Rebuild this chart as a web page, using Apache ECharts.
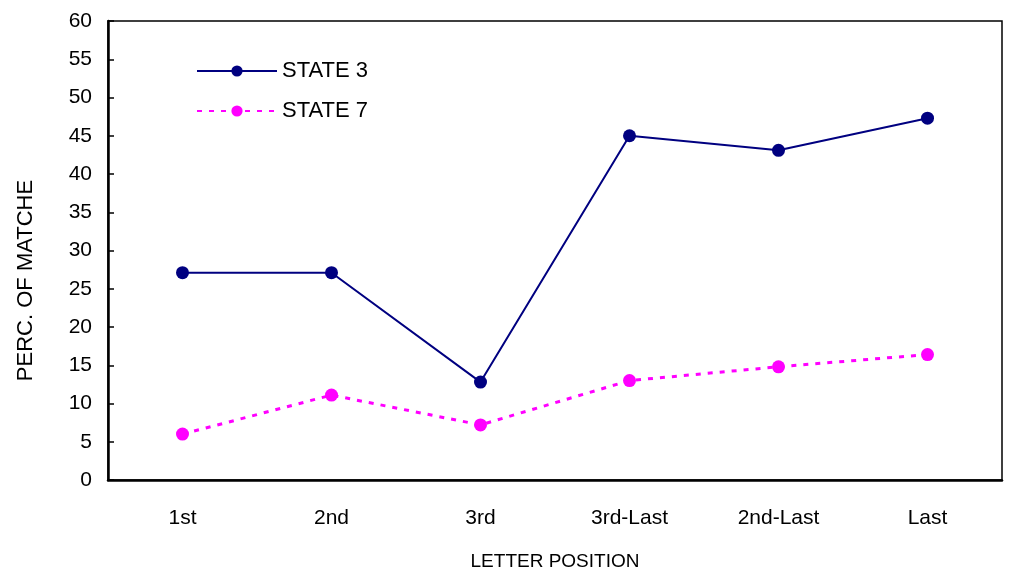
<!DOCTYPE html>
<html>
<head>
<meta charset="utf-8">
<script src="https://cdn.jsdelivr.net/npm/echarts@6/dist/echarts.min.js"></script>
<style>
  html, body { margin: 0; padding: 0; background: #fff; }
  #chart { width: 1009px; height: 572px; }
</style>
</head>
<body>
<div id="chart"></div>
<script>
// Letter positions along the word
const categories = ['1st', '2nd', '3rd', '3rd-Last', '2nd-Last', 'Last'];
// Percentage of matches per state
const state3 = [27.1, 27.1, 12.8, 45.0, 43.1, 47.3];
const state7 = [6.0, 11.1, 7.2, 13.0, 14.8, 16.4];

const FONT = '"Liberation Sans", Arial, sans-serif';
const chart = echarts.init(document.getElementById('chart'));

chart.setOption({
  animation: false,
  backgroundColor: '#fff',
  textStyle: { fontFamily: FONT },
  grid: {
    left: 108, right: 7, top: 21, bottom: 92,
    outerBoundsMode: 'none',
    show: true, borderColor: '#000', borderWidth: 1.5
  },
  legend: {
    orient: 'vertical',
    left: 191, top: 55,
    itemWidth: 80, itemHeight: 14,
    itemGap: 18,
    textStyle: { fontSize: 22, color: '#000', fontFamily: FONT },
    data: ['STATE 3', 'STATE 7']
  },
  xAxis: {
    type: 'category',
    data: categories,
    boundaryGap: true,
    name: 'LETTER POSITION',
    nameLocation: 'middle',
    nameGap: 72,
    nameTextStyle: { fontSize: 19, color: '#000', fontFamily: FONT },
    axisLine: { lineStyle: { color: '#000', width: 2.5 } },
    axisTick: { inside: true, length: 6, lineStyle: { color: '#000', width: 1.5 } },
    axisLabel: { fontSize: 21, color: '#000', margin: 28 },
    splitLine: { show: false }
  },
  yAxis: {
    type: 'value',
    min: 0, max: 60, interval: 5,
    name: 'PERC. OF MATCHE',
    nameLocation: 'middle',
    nameGap: 71,
    nameRotate: 90,
    nameTextStyle: { fontSize: 22, color: '#000', fontFamily: FONT, padding: [0, 60, 0, 0] },
    axisLine: { show: true, lineStyle: { color: '#000', width: 2.5 } },
    axisTick: { show: true, inside: true, length: 6, lineStyle: { color: '#000', width: 1.5 } },
    axisLabel: { fontSize: 21, color: '#000', margin: 16 },
    splitLine: { show: false }
  },
  series: [
    {
      name: 'STATE 3',
      type: 'line',
      data: state3,
      symbol: 'circle',
      symbolSize: 13,
      itemStyle: { color: '#000080' },
      lineStyle: { color: '#000080', width: 2 }
    },
    {
      name: 'STATE 7',
      type: 'line',
      data: state7,
      symbol: 'circle',
      symbolSize: 13,
      itemStyle: { color: '#ff00ff' },
      lineStyle: { color: '#ff00ff', width: 3, type: [5, 7] }
    }
  ]
});
</script>
</body>
</html>
